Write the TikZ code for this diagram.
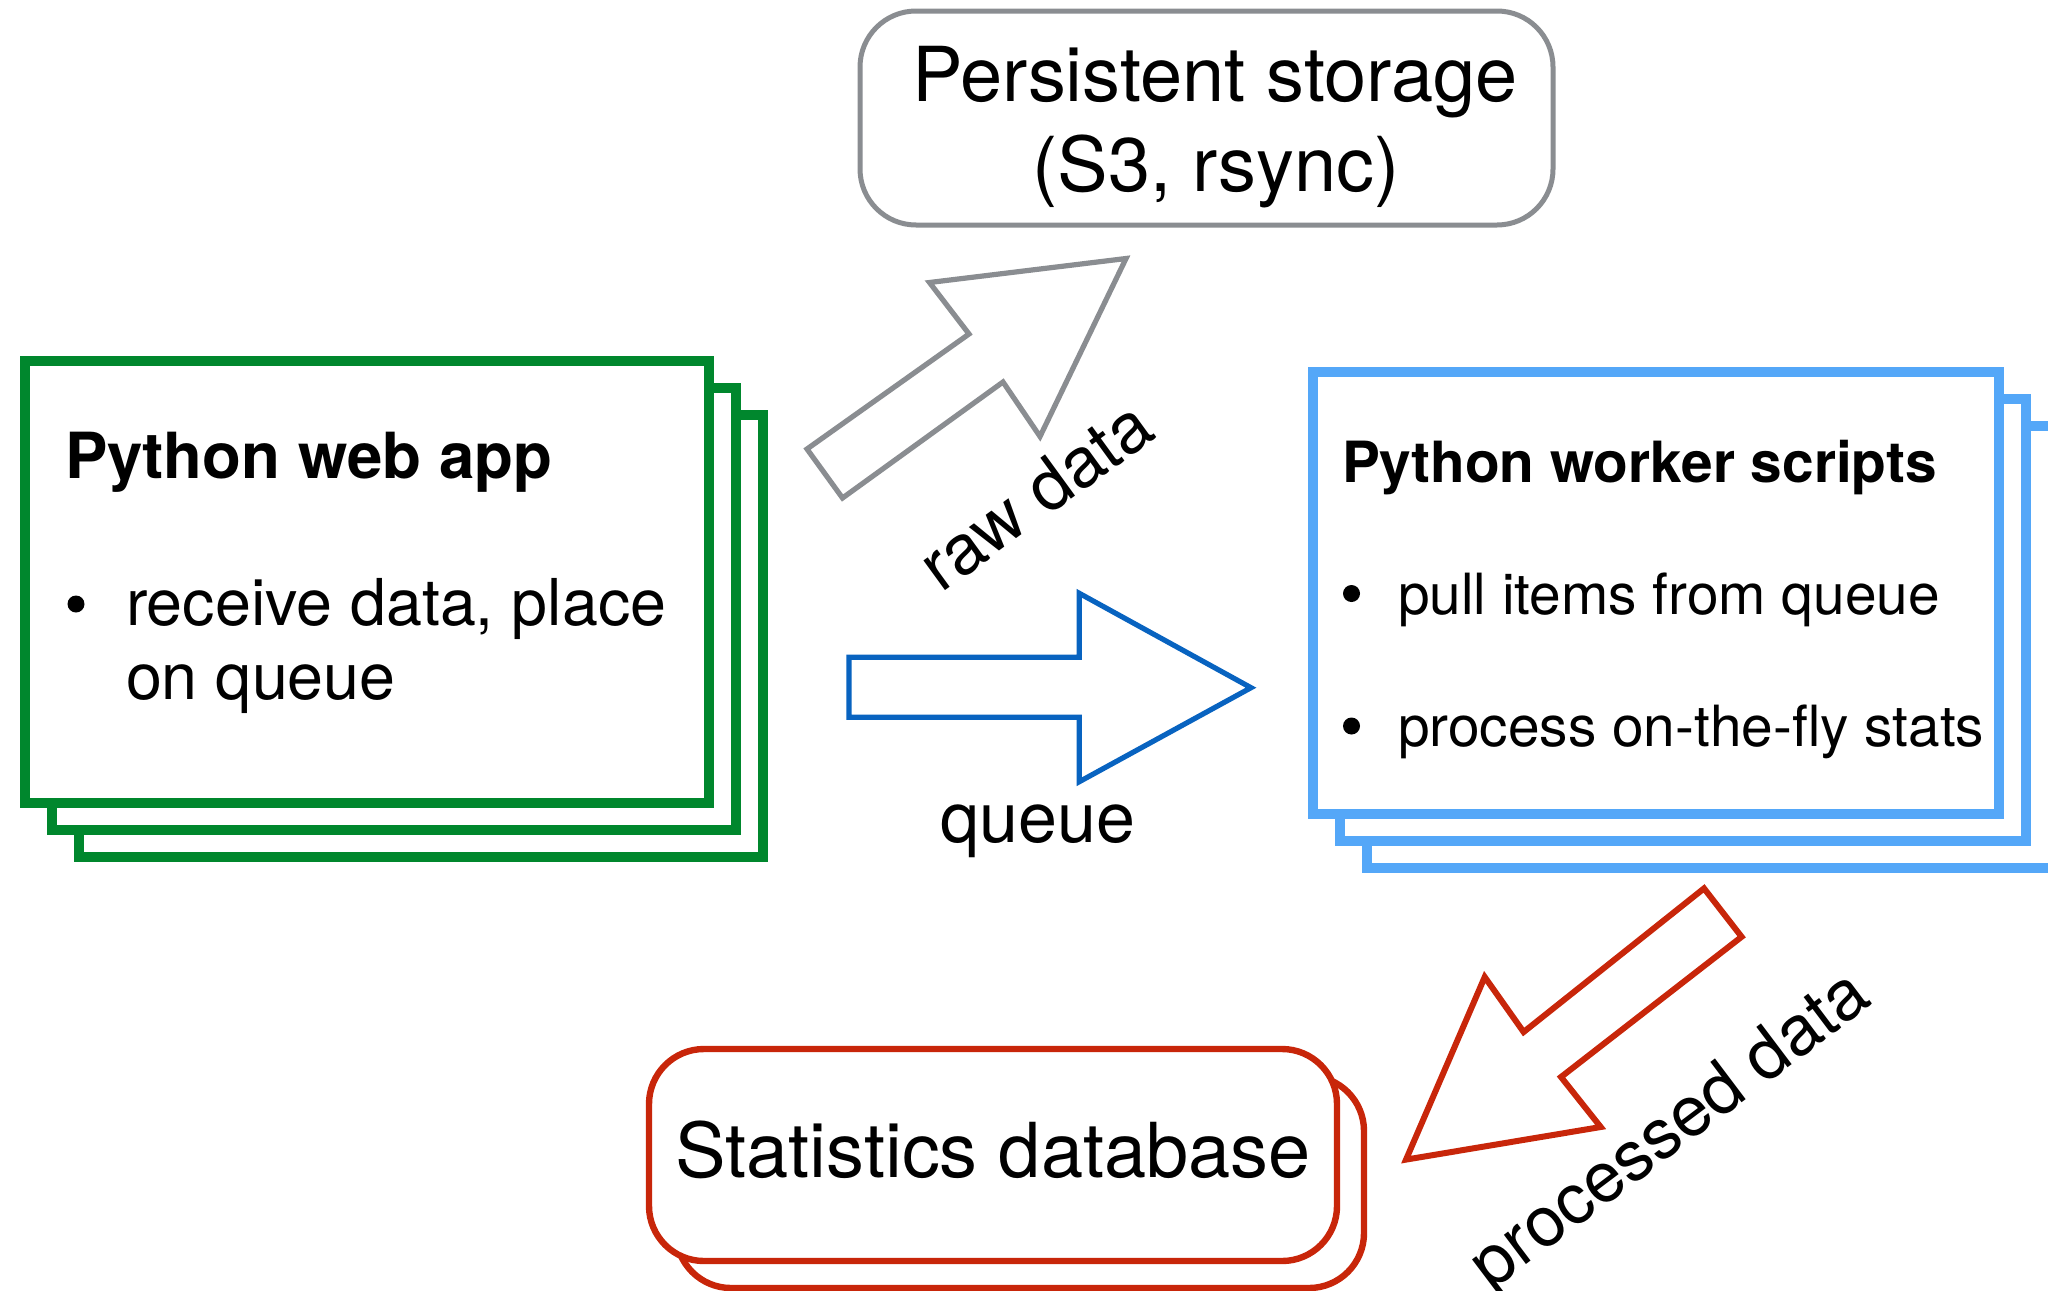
\documentclass[tikz,border=0pt]{standalone}
\usepackage{fontspec}
\setmainfont{TeX Gyre Heros}
\definecolor{storegray}{RGB}{138,141,145}
\definecolor{webgreen}{RGB}{0,135,45}
\definecolor{workerblue}{RGB}{84,167,248}
\definecolor{queueblue}{RGB}{8,99,192}
\definecolor{dbred}{RGB}{200,38,10}
\begin{document}
\begin{tikzpicture}[x=0.5pt,y=-0.5pt,
  every node/.style={inner sep=0pt, outer sep=0pt},
  webcard/.style={draw=webgreen, fill=white, line width=5pt,
    minimum width=342pt, minimum height=221pt},
  workercard/.style={draw=workerblue, fill=white, line width=5pt,
    minimum width=343pt, minimum height=221pt},
  storebox/.style={draw=storegray, fill=white, line width=2.5pt,
    rounded corners=28pt, minimum width=346.5pt, minimum height=107pt},
  dbbox/.style={draw=dbred, fill=white, line width=3.2pt,
    rounded corners=27.5pt, minimum width=344pt, minimum height=106pt},
  bigarrow/.style={fill=white, line width=2.6pt, line join=miter},
  dotmark/.style={circle, fill=black, minimum size=8.5pt},
  webtitle/.style={font=\fontsize{31.8}{38}\selectfont\bfseries},
  webtext/.style={font=\fontsize{32.3}{38}\selectfont},
  workertitle/.style={font=\fontsize{28.4}{34}\selectfont\bfseries},
  workertext/.style={font=\fontsize{28.4}{34}\selectfont},
  boxtext/.style={font=\fontsize{37.9}{45}\selectfont},
  flowlabel/.style={font=\fontsize{35}{40}\selectfont}]

\useasboundingbox (0,0) rectangle (2048,1290);
\clip (0,0) rectangle (2048,1290);

% web app: a stack of three cards
\node[webcard] (web3) at (421,636) {};
\node[webcard] (web2) at (394,609) {};
\node[webcard] (web1) at (367,582) {};
\node[webtitle, anchor=base west] (webhead) at (65,478) {Python web app};
\node[dotmark] (webdot) at (76,604) {};
\node[webtext, anchor=base west] (webline1) at (126,625) {receive data, place};
\node[webtext, anchor=base west] (webline2) at (126,699.5) {on queue};

% worker scripts: a stack of three cards
\node[workercard] (work3) at (1710,647) {};
\node[workercard] (work2) at (1683,620) {};
\node[workercard] (work1) at (1656,593) {};
\node[workertitle, anchor=base west] (workhead) at (1342,482) {Python worker scripts};
\node[dotmark] (workdot1) at (1351.5,593.5) {};
\node[workertext, anchor=base west] (workline1) at (1398,614) {pull items from queue};
\node[dotmark] (workdot2) at (1351.5,726) {};
\node[workertext, anchor=base west] (workline2) at (1398,746) {process on-the-fly stats};

% persistent storage
\node[storebox] (store) at (1206.5,118) {};
\node[boxtext, anchor=base] (storeline1) at (1215,101.5) {Persistent storage};
\node[boxtext, anchor=base] (storeline2) at (1216,191.5) {(S3, rsync)};

% statistics database: two stacked rounded boxes
\node[dbbox] (db2) at (1020,1182) {};
\node[dbbox] (db1) at (993,1155) {};
\node[boxtext, anchor=base] (dbtext) at (993,1177) {Statistics database};

% block arrows between the parts
\draw[bigarrow, draw=storegray]
  (807,449) -- (969,334) -- (929.5,282.5) -- (1126,258.5)
  -- (1040,436.5) -- (1003,382) -- (842.5,498) -- cycle;
\node[flowlabel, rotate=36] (rawlabel) at (1035,495) {raw data};

\draw[bigarrow, draw=queueblue]
  (849,657.3) -- (1079.3,657.3) -- (1079.3,593.3) -- (1251,687.7)
  -- (1079.3,781.7) -- (1079.3,717.3) -- (849,717.3) -- cycle;
\node[flowlabel, anchor=base] (queuelabel) at (1038,842) {queue};

\draw[bigarrow, draw=dbred, line width=3pt]
  (1406,1159.6) -- (1484.7,977) -- (1523.6,1032) -- (1704,888.4)
  -- (1741.6,936.8) -- (1561,1077) -- (1600.7,1127) -- cycle;
\node[flowlabel, rotate=37] (proclabel) at (1672,1133) {processed data};

\end{tikzpicture}
\end{document}
